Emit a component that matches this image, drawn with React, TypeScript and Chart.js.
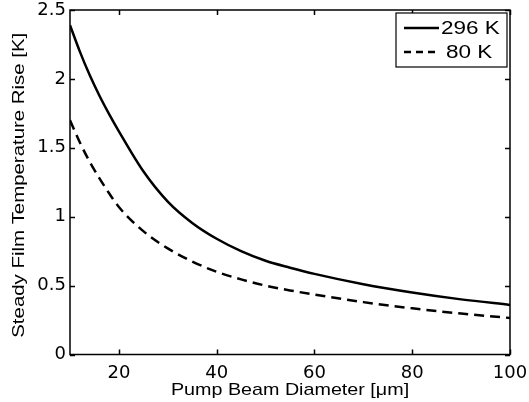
import React, { useEffect, useRef } from "react";
import { Chart, registerables } from "chart.js";

Chart.register(...registerables);

const diameters = [10, 12, 14, 16, 18, 20, 25, 30, 35, 40, 45, 50, 55, 60, 70, 80, 90, 100];
const rise296 = [2.39, 2.2, 2.03, 1.88, 1.745, 1.62, 1.33, 1.11, 0.955, 0.84, 0.75, 0.68, 0.63, 0.585, 0.51, 0.45, 0.4, 0.36];
const rise80 = [1.7, 1.54, 1.4, 1.28, 1.17, 1.07, 0.895, 0.77, 0.675, 0.6, 0.545, 0.5, 0.465, 0.435, 0.38, 0.335, 0.297, 0.265];
const seriesLabels = ["296 K", "80 K"];
const xTicks = [20, 40, 60, 80, 100];
const yTicks = [0, 0.5, 1, 1.5, 2, 2.5];
const xTitle = "Pump Beam Diameter [\u03bcm]";
const yTitle = "Steady Film Temperature Rise [K]";

const FONT = "'Liberation Sans', Arial, Helvetica, sans-serif";
const TICK_FONT = "'DejaVu Sans', 'Liberation Sans', sans-serif";

const framePlugin = {
  id: "matlabFrame",
  afterDraw(chart: any) {
    const { ctx, chartArea } = chart;
    const { left, right, top, bottom } = chartArea;
    const xs = chart.scales.x;
    const ys = chart.scales.y;
    ctx.save();
    ctx.strokeStyle = "#000";
    ctx.lineWidth = 1.5;
    ctx.setLineDash([]);
    ctx.strokeRect(left, top, right - left, bottom - top);
    const tl = 5;
    ctx.beginPath();
    xTicks.forEach((v) => {
      const px = Math.round(xs.getPixelForValue(v)) + 0.5;
      ctx.moveTo(px, bottom);
      ctx.lineTo(px, bottom - tl);
      ctx.moveTo(px, top);
      ctx.lineTo(px, top + tl);
    });
    yTicks.forEach((v) => {
      const py = Math.round(ys.getPixelForValue(v)) + 0.5;
      ctx.moveTo(left, py);
      ctx.lineTo(left + tl, py);
      ctx.moveTo(right, py);
      ctx.lineTo(right - tl, py);
    });
    ctx.stroke();

    // axis titles
    ctx.fillStyle = "#000";
    ctx.font = `17px ${FONT}`;
    ctx.textAlign = "center";
    ctx.textBaseline = "middle";
    ctx.save();
    ctx.translate((left + right) / 2, 390);
    ctx.scale(1.16, 1);
    ctx.fillText(xTitle, 0, 0);
    ctx.restore();
    ctx.save();
    ctx.translate(19, (top + bottom) / 2 + 3);
    ctx.rotate(-Math.PI / 2);
    ctx.scale(1.2, 1);
    ctx.fillText(yTitle, 0, 0);
    ctx.restore();

    // legend
    const bx0 = right - 114;
    const by0 = top + 3;
    const bw = 111;
    const bh = 54;
    ctx.fillStyle = "#fff";
    ctx.fillRect(bx0, by0, bw, bh);
    ctx.strokeStyle = "#000";
    ctx.lineWidth = 1.2;
    ctx.strokeRect(bx0, by0, bw, bh);
    const rows = [by0 + 15, by0 + 39];
    chart.data.datasets.forEach((ds: any, i: number) => {
      const ry = rows[i];
      ctx.strokeStyle = "#000";
      ctx.lineWidth = 2.5;
      ctx.setLineDash(i === 0 ? [] : [7, 5]);
      ctx.beginPath();
      ctx.moveTo(bx0 + 8, ry);
      ctx.lineTo(bx0 + 43, ry);
      ctx.stroke();
      ctx.setLineDash([]);
      ctx.fillStyle = "#000";
      ctx.font = `18px ${FONT}`;
      ctx.textAlign = "left";
      ctx.textBaseline = "middle";
      ctx.save();
      ctx.translate(bx0 + (i === 0 ? 45 : 50), ry + 1);
      ctx.scale(1.25, 1);
      ctx.fillText(ds.label, 0, 0);
      ctx.restore();
    });
    ctx.restore();
  },
};

export default function App() {
  const ref = useRef<HTMLCanvasElement>(null);
  useEffect(() => {
    if (!ref.current) return;
    const chart = new Chart(ref.current, {
      type: "line",
      data: {
        datasets: [
          {
            label: seriesLabels[0],
            data: diameters.map((d, i) => ({ x: d, y: rise296[i] })),
            borderColor: "#000",
            borderWidth: 2.5,
            pointRadius: 0,
            cubicInterpolationMode: "monotone",
            fill: false,
          },
          {
            label: seriesLabels[1],
            data: diameters.map((d, i) => ({ x: d, y: rise80[i] })),
            borderColor: "#000",
            borderWidth: 2.5,
            borderDash: [10, 6],
            pointRadius: 0,
            cubicInterpolationMode: "monotone",
            fill: false,
          },
        ],
      },
      options: {
        animation: false,
        responsive: false,
        maintainAspectRatio: false,
        layout: { padding: { top: 10, right: 19, left: 0, bottom: 0 } },
        plugins: {
          legend: { display: false },
          tooltip: { enabled: false },
        },
        scales: {
          x: {
            type: "linear",
            min: 10,
            max: 100,
            grid: { display: false, drawTicks: false },
            border: { display: false },
            afterBuildTicks: (s: any) => {
              s.ticks = xTicks.map((v) => ({ value: v }));
            },
            afterFit: (s: any) => {
              s.height = 47.5;
              s.paddingLeft = 0;
              s.paddingRight = 0;
            },
            ticks: {
              padding: 8,
              color: "#000",
              font: { family: TICK_FONT, size: 18 },
              maxRotation: 0,
              callback: (v: any) => String(v),
            },
          },
          y: {
            type: "linear",
            min: 0,
            max: 2.5,
            grid: { display: false, drawTicks: false },
            border: { display: false },
            afterBuildTicks: (s: any) => {
              s.ticks = yTicks.map((v) => ({ value: v }));
            },
            afterFit: (s: any) => {
              s.width = 70;
              s.paddingTop = 0;
              s.paddingBottom = 0;
            },
            ticks: {
              padding: 4,
              color: "#000",
              font: { family: TICK_FONT, size: 18 },
              callback: (v: any) => String(v),
            },
          },
        },
      },
      plugins: [framePlugin],
    });
    return () => chart.destroy();
  }, []);
  return (
    <div style={{ position: "fixed", left: 0, top: 0, width: 529, height: 402, background: "#fff" }}>
      <canvas ref={ref} width={529} height={402} style={{ display: "block" }} />
    </div>
  );
}
